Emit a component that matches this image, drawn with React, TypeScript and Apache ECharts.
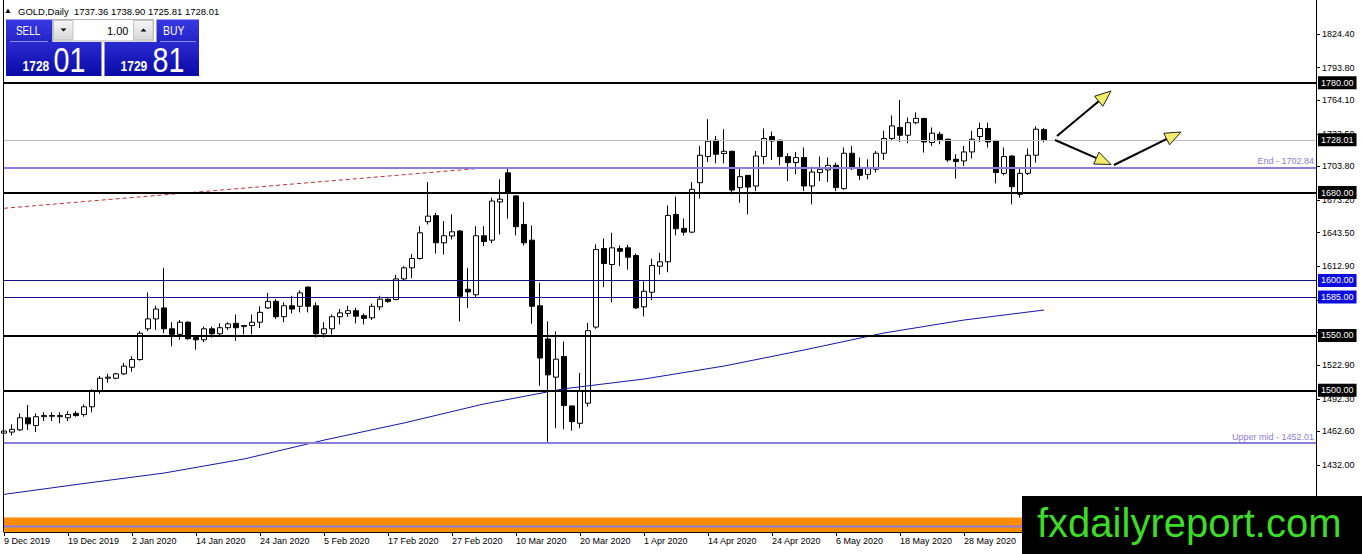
import React, { useEffect, useRef } from "react";
import * as echarts from "echarts";

const FONT = '"Liberation Sans", Arial, sans-serif';

// Trading days shown on the chart (daily bars)
const decDays = [9, 10, 11, 12, 13, 16, 17, 18, 19, 20, 23, 24, 26, 27, 30, 31];
const janDays = [2, 3, 6, 7, 8, 9, 10, 13, 14, 15, 16, 17, 20, 21, 22, 23, 24, 27, 28, 29, 30, 31];
const febDays = [3, 4, 5, 6, 7, 10, 11, 12, 13, 14, 17, 18, 19, 20, 21, 24, 25, 26, 27, 28];
const marDays = [2, 3, 4, 5, 6, 9, 10, 11, 12, 13, 16, 17, 18, 19, 20, 23, 24, 25, 26, 27, 30, 31];
const aprDays = [1, 2, 3, 6, 7, 8, 9, 13, 14, 15, 16, 17, 20, 21, 22, 23, 24, 27, 28, 29, 30];
const mayDays = [1, 4, 5, 6, 7, 8, 11, 12, 13, 14, 15, 18, 19, 20, 21, 22, 25, 26, 27, 28, 29];
const junDays = [1, 2, 3, 4, 5, 8, 9, 10, 11];
const futureSlots = 34;
const dateLabelEvery = 8;
const lastVisibleDateLabel = 120; // later labels sit under the logo box

const opens = [
  1461, 1462, 1464, 1475, 1468, 1476, 1477, 1476, 1475, 1479,
  1478, 1485, 1499, 1511, 1511, 1515, 1521, 1528, 1556, 1565,
  1575, 1556, 1551, 1562, 1548, 1546, 1556, 1551.5, 1557, 1561,
  1558, 1559, 1562, 1575, 1581, 1567, 1577, 1576.5, 1594, 1577,
  1551.5, 1556, 1567, 1570, 1572.5, 1568, 1566, 1576, 1583, 1582.6,
  1601.4, 1611.5, 1620, 1653.5, 1659, 1634.3, 1640.5, 1645, 1592, 1587,
  1640.7, 1636.7, 1671.5, 1698, 1677, 1651, 1636.7, 1577, 1546.7, 1512,
  1530.8, 1485.8, 1470, 1488.3, 1557.6, 1629, 1614.5, 1629, 1629.7, 1622.7,
  1576, 1589.3, 1613, 1617, 1660.1, 1647.4, 1644, 1689, 1712.8, 1727.7,
  1715.5, 1717.6, 1684.5, 1695.7, 1686, 1712.8, 1731, 1727.7, 1712.8, 1707.3,
  1711.9, 1686, 1698.2, 1700.6, 1704.8, 1683.6, 1715.8, 1702.7, 1696.6, 1701.2,
  1715.8, 1729.2, 1739.3, 1732.2, 1743.6, 1747.5, 1725.6, 1733.1, 1728.6, 1710.3,
  1708.8, 1717, 1731, 1738.3, 1727, 1697.5, 1713.3, 1678.4, 1697.5, 1714,
  1737.36,
];
const highs = [
  1465, 1469, 1479, 1486.7, 1479, 1480, 1480, 1480, 1481, 1481,
  1487, 1501, 1513, 1515, 1516, 1525, 1531, 1554, 1589, 1577,
  1611.5, 1562, 1564, 1563, 1549, 1558, 1558, 1561, 1562, 1569,
  1559.5, 1569, 1576.5, 1588.7, 1583, 1580, 1586, 1591, 1594.5, 1580,
  1562, 1569, 1574, 1577, 1575, 1570, 1579, 1586, 1583.5, 1605,
  1613, 1624, 1649.5, 1689.6, 1661.5, 1654, 1660.1, 1646, 1611.5, 1649.5,
  1649.5, 1675.4, 1692.1, 1702.7, 1677.5, 1671.4, 1650.1, 1597.8, 1562.8, 1553.6,
  1544.5, 1486, 1515.7, 1561.3, 1632.8, 1638.2, 1643.4, 1631.8, 1632.5, 1624.5,
  1599.3, 1619.7, 1625.2, 1668.3, 1676.3, 1656.5, 1689.6, 1722.5, 1746.8, 1731.6,
  1737.7, 1718, 1702.7, 1696, 1717.9, 1738.3, 1735.6, 1728, 1715.8, 1717,
  1721, 1703.6, 1712.8, 1711.9, 1707.3, 1721, 1722.5, 1711.9, 1710.3, 1717.9,
  1736.2, 1750.2, 1764.4, 1748.4, 1753, 1748, 1739.3, 1735.3, 1729, 1714.9,
  1722.5, 1736.2, 1743.6, 1743.6, 1728, 1721, 1714, 1701.8, 1720.1, 1740.2,
  1738.9,
];
const lows = [
  1459, 1459, 1463, 1463.9, 1462, 1472, 1472, 1470, 1472, 1476,
  1476, 1480, 1497, 1507, 1510, 1514, 1517, 1527, 1554, 1555,
  1552, 1540, 1546, 1546, 1537, 1544, 1548, 1549, 1555, 1545,
  1551, 1551, 1556.7, 1574, 1565, 1562, 1570, 1571, 1571, 1548,
  1548, 1551, 1560, 1567, 1561, 1560, 1564, 1573, 1579.5, 1582,
  1600, 1602, 1619, 1651, 1624.5, 1623.6, 1637.3, 1562.8, 1575, 1585,
  1631.2, 1634, 1641.9, 1656.2, 1641, 1631.8, 1560.7, 1504.1, 1451.8, 1465.5,
  1464.6, 1463.3, 1465.5, 1485.2, 1556, 1593.8, 1580.1, 1613, 1609.9, 1574,
  1567.3, 1582, 1605.4, 1607.5, 1641, 1641, 1643, 1674.5, 1707.9, 1706.7,
  1706.7, 1678.4, 1670.8, 1660.1, 1681.4, 1705.8, 1709.7, 1704.9, 1690.5, 1696.6,
  1681.4, 1669.3, 1690.5, 1689.6, 1681.4, 1682.5, 1700.6, 1691.4, 1692.1, 1698.2,
  1709.7, 1727, 1726.1, 1724.9, 1742.3, 1716.4, 1722.5, 1724, 1707.9, 1692.7,
  1704.2, 1711, 1726.1, 1721, 1688.4, 1695.7, 1669.3, 1675.4, 1696, 1707.3,
  1725.81,
];
const closes = [
  1463, 1464.5, 1475, 1469.5, 1476, 1477, 1476.5, 1477, 1478, 1477,
  1485, 1499, 1511, 1512, 1515, 1522, 1528, 1552, 1565, 1574,
  1556, 1551, 1562, 1547, 1546, 1556, 1551.5, 1557, 1560.5, 1557,
  1559, 1562, 1571, 1581, 1567, 1577, 1574, 1588.7, 1576.5, 1551.5,
  1556, 1567, 1570.5, 1572.5, 1567.5, 1565.5, 1576.5, 1583, 1581, 1601.4,
  1611.5, 1620, 1643.4, 1658.6, 1634.3, 1640.7, 1644.3, 1585.6, 1589.6, 1640.7,
  1635.5, 1672.3, 1674, 1680.5, 1649, 1634.3, 1576.5, 1529.4, 1514.1, 1528.4,
  1486.1, 1471.5, 1498.9, 1554.3, 1628.2, 1615.4, 1629.7, 1626.6, 1621.2, 1575,
  1590.2, 1613.6, 1617, 1659.2, 1647.1, 1644, 1682.9, 1714, 1726.8, 1714.9,
  1717.6, 1682.3, 1694.5, 1685, 1713.3, 1729.2, 1727, 1712.8, 1707.3, 1711.9,
  1686, 1698.7, 1701.2, 1704.8, 1684.5, 1715.8, 1701.8, 1695.7, 1701.8, 1715.8,
  1729.2, 1740.7, 1732.2, 1743.6, 1747.5, 1726.1, 1734.1, 1728, 1709.7, 1708.2,
  1717, 1728.6, 1738.3, 1726.1, 1698.2, 1712.8, 1685.4, 1697.5, 1714, 1737.7,
  1728.01,
];

// Moving average readings [bar index, price]
const maPoints = [
  [0, 1405.3], [10, 1415.2], [20, 1424.7], [30, 1437.5], [40, 1454.7],
  [50, 1470.3], [60, 1487.6], [70, 1501.4], [80, 1510.3], [90, 1522.1],
  [100, 1536.7], [110, 1552.2], [120, 1564.0], [130, 1573.1],
];
// Red dashed trend line [bar index, price]
const trendPoints = [[0, 1665.7], [61, 1703.0]];

const blackLevels = [1780, 1680, 1550, 1500];
const blueLevels = [1600, 1585];
const currentPrice = 1728.01;
const endLevel = 1702.84;
const upperMidLevel = 1452.01;

const yTickValues = [1401.4, 1432.0, 1462.6, 1492.3, 1522.9, 1552.6, 1582.3, 1612.9, 1643.5, 1673.2, 1703.8, 1733.5, 1764.1, 1793.8, 1824.4];
// labels that stay visible (1552.60 and 1582.30 sit fully under level boxes)
const yLabelValues = [1401.4, 1432.0, 1462.6, 1492.3, 1522.9, 1612.9, 1643.5, 1673.2, 1703.8, 1733.5, 1764.1, 1793.8, 1824.4];
const yMin = 1384.7;
const yMax = 1855.3;

const infoText = "GOLD,Daily  1737.36 1738.90 1725.81 1728.01";
const sellBig = "01";
const sellSmall = "1728";
const buyBig = "81";
const buySmall = "1729";
const lotText = "1.00";
const logoText = "fxdailyreport.com";

const categories: string[] = [
  ...decDays.map((d) => `${d} Dec 2019`),
  ...janDays.map((d) => `${d} Jan 2020`),
  ...febDays.map((d) => `${d} Feb 2020`),
  ...marDays.map((d) => `${d} Mar 2020`),
  ...aprDays.map((d) => `${d} Apr 2020`),
  ...mayDays.map((d) => `${d} May 2020`),
  ...junDays.map((d) => `${d} Jun 2020`),
  ...Array.from({ length: futureSlots }, (_, k) => `+${k + 1}`),
];

const LAV = "#8a7edc";

function arrow(x1: number, y1: number, x2: number, y2: number) {
  const dx = x2 - x1;
  const dy = y2 - y1;
  const len = Math.hypot(dx, dy);
  const ux = dx / len;
  const uy = dy / len;
  const px = -uy;
  const py = ux;
  const L = 16;
  const W = 6.5;
  const bx = x2 - ux * L;
  const by = y2 - uy * L;
  return [
    {
      type: "line",
      z: 100,
      shape: { x1, y1, x2: bx + ux * 2, y2: by + uy * 2 },
      style: { stroke: "#000", lineWidth: 2 },
    },
    {
      type: "polygon",
      z: 101,
      shape: {
        points: [
          [x2, y2],
          [bx + px * W, by + py * W],
          [bx - px * W, by - py * W],
        ],
      },
      style: { fill: "#f2ee6a", stroke: "#222", lineWidth: 1 },
    },
  ];
}

function txt(x: number, y: number, text: string, font: string, fill: string, align: string, scaleX = 1) {
  return {
    type: "text",
    z: 120,
    x,
    y,
    scaleX,
    style: {
      x: 0,
      y: 0,
      text,
      font,
      fill,
      align,
      textAlign: align,
      verticalAlign: "middle",
      textVerticalAlign: "middle",
    },
  };
}

function grad(c1: string, c2: string) {
  return new echarts.graphic.LinearGradient(0, 0, 0, 1, [
    { offset: 0, color: c1 },
    { offset: 1, color: c2 },
  ]);
}

function levelLabel(v: number, bg: string) {
  return {
    show: true,
    position: "end",
    distance: 2,
    formatter: v.toFixed(2),
    color: "#fff",
    backgroundColor: bg,
    padding: [2, 3, 1, 3],
    fontSize: 9,
    lineHeight: 10,
    fontFamily: FONT,
  };
}

function buildOption() {
  const candleData = opens.map((o, i) => [o, closes[i], lows[i], highs[i]]);

  const markData: any[] = [
    ...blackLevels.map((v) => ({
      yAxis: v,
      lineStyle: { color: "#000", width: 2, type: "solid" },
      label: levelLabel(v, "#000"),
    })),
    ...blueLevels.map((v) => ({
      yAxis: v,
      lineStyle: { color: "#10108c", width: 1, type: "solid" },
      label: levelLabel(v, "#0c0cdc"),
    })),
    {
      yAxis: currentPrice,
      lineStyle: { color: "#c0c0c0", width: 1, type: "solid" },
      label: levelLabel(currentPrice, "#000"),
    },
    {
      yAxis: endLevel,
      lineStyle: { color: LAV, width: 2, type: "solid" },
      label: {
        show: true,
        position: "insideEndTop",
        distance: 2,
        formatter: `End - ${endLevel.toFixed(2)}`,
        color: LAV,
        fontSize: 9,
        fontFamily: FONT,
      },
    },
    {
      yAxis: upperMidLevel,
      lineStyle: { color: LAV, width: 2, type: "solid" },
      label: {
        show: true,
        position: "insideEndTop",
        distance: 2,
        formatter: `Upper mid - ${upperMidLevel.toFixed(2)}`,
        color: LAV,
        fontSize: 9,
        fontFamily: FONT,
      },
    },
  ];

  const small = `9.5px ${FONT}`;

  const graphicEls: any[] = [
    // left border
    { type: "line", z: 50, shape: { x1: 3.5, y1: 0, x2: 3.5, y2: 532 }, style: { stroke: "#000", lineWidth: 1 } },
    // indicator sub-window band
    { type: "rect", z: 40, shape: { x: 3.5, y: 517.5, width: 1313, height: 14.5 }, style: { fill: "#ff8c00" } },
    { type: "line", z: 41, shape: { x1: 3.5, y1: 526.5, x2: 1316, y2: 526.5 }, style: { stroke: LAV, lineWidth: 2 } },
    { type: "line", z: 50, shape: { x1: 1316.5, y1: 515, x2: 1316.5, y2: 532 }, style: { stroke: "#000", lineWidth: 1 } },
    // arrows
    ...arrow(1057, 136, 1111, 91),
    ...arrow(1055, 140, 1111, 164.5),
    ...arrow(1114, 165, 1181, 132),
    // info line
    { type: "polygon", z: 120, shape: { points: [[5.5, 13], [10.5, 13], [8, 8.5]] }, style: { fill: "#000" } },
    txt(18, 11, infoText, small, "#000", "left"),
    // trade panel - sell
    { type: "rect", z: 110, shape: { x: 6, y: 19.5, width: 46.5, height: 22.5 }, style: { fill: grad("#3a3ae4", "#2222c6") } },
    { type: "rect", z: 110, shape: { x: 6, y: 42, width: 95.5, height: 34 }, style: { fill: grad("#2a2ad2", "#0a0aa6") } },
    { type: "line", z: 111, shape: { x1: 10, y1: 41.5, x2: 48, y2: 41.5 }, style: { stroke: "#8c8cff", lineWidth: 1 } },
    // buy
    { type: "rect", z: 110, shape: { x: 156.5, y: 19.5, width: 42.5, height: 22.5 }, style: { fill: grad("#3a3ae4", "#2222c6") } },
    { type: "rect", z: 110, shape: { x: 104.5, y: 42, width: 94.5, height: 34 }, style: { fill: grad("#2a2ad2", "#0a0aa6") } },
    { type: "line", z: 111, shape: { x1: 160, y1: 41.5, x2: 196, y2: 41.5 }, style: { stroke: "#8c8cff", lineWidth: 1 } },
    // spinner
    { type: "rect", z: 110, shape: { x: 52.5, y: 19.5, width: 101, height: 21.5 }, style: { fill: "#fff", stroke: "#b4b4b4", lineWidth: 1 } },
    { type: "rect", z: 111, shape: { x: 53.5, y: 20.5, width: 19.5, height: 19.5 }, style: { fill: grad("#f6f6f6", "#d6d6d6"), stroke: "#c4c4c4", lineWidth: 1 } },
    { type: "rect", z: 111, shape: { x: 133.5, y: 20.5, width: 19.5, height: 19.5 }, style: { fill: grad("#f6f6f6", "#d6d6d6"), stroke: "#c4c4c4", lineWidth: 1 } },
    { type: "polygon", z: 112, shape: { points: [[60.5, 28.5], [66.5, 28.5], [63.5, 31.5]] }, style: { fill: "#000" } },
    { type: "polygon", z: 112, shape: { points: [[140.5, 31.5], [146.5, 31.5], [143.5, 28.5]] }, style: { fill: "#000" } },
    txt(128.5, 30.5, lotText, `11px ${FONT}`, "#000", "right"),
    txt(16, 30.5, "SELL", `13px ${FONT}`, "#fff", "left", 0.76),
    txt(163, 30.5, "BUY", `13px ${FONT}`, "#fff", "left", 0.8),
    txt(22.5, 65.8, sellSmall, `bold 14px ${FONT}`, "#fff", "left", 0.86),
    txt(53.5, 59.5, sellBig, `35px ${FONT}`, "#fff", "left", 0.82),
    txt(120.5, 65.8, buySmall, `bold 14px ${FONT}`, "#fff", "left", 0.86),
    txt(152.5, 59.5, buyBig, `35px ${FONT}`, "#fff", "left", 0.82),
    // logo
    { type: "rect", z: 130, shape: { x: 1022, y: 496, width: 340, height: 58 }, style: { fill: "#000" } },
    { ...txt(1037, 523, logoText, `40px ${FONT}`, "#3cdc28", "left"), z: 131 },
  ];

  return {
    animation: false,
    backgroundColor: "#fff",
    textStyle: { fontFamily: FONT },
    grid: { left: 4, right: 46, top: 0, height: 517, show: false },
    xAxis: {
      type: "category",
      data: categories,
      boundaryGap: false,
      offset: 15,
      axisLine: { show: true, lineStyle: { color: "#000", width: 1 } },
      axisTick: {
        show: true,
        interval: (i: number) => i % dateLabelEvery === 0,
        length: 4,
        lineStyle: { color: "#000" },
      },
      axisLabel: {
        interval: (i: number) => i % dateLabelEvery === 0 && i <= lastVisibleDateLabel,
        formatter: (v: string) => (v.startsWith("+") ? "" : v),
        align: "left",
        color: "#000",
        fontSize: 9,
        margin: 4,
      },
      splitLine: { show: false },
    },
    yAxis: {
      type: "value",
      position: "right",
      min: yMin,
      max: yMax,
      axisLine: { show: true, lineStyle: { color: "#000", width: 1 } },
      axisTick: { show: true, customValues: yTickValues, length: 4, lineStyle: { color: "#000" } },
      axisLabel: {
        customValues: yLabelValues,
        formatter: (v: number) => v.toFixed(2),
        color: "#000",
        fontSize: 9,
        margin: 6,
      },
      splitLine: { show: false },
    },
    series: [
      {
        type: "candlestick",
        data: candleData,
        barWidth: 5,
        z: 2,
        itemStyle: {
          color: "#fff",
          color0: "#000",
          borderColor: "#000",
          borderColor0: "#000",
          borderWidth: 1,
        },
        emphasis: { disabled: true },
        markLine: {
          silent: true,
          symbol: ["none", "none"],
          animation: false,
          data: markData,
        },
      },
      {
        type: "line",
        data: maPoints,
        showSymbol: false,
        symbol: "none",
        z: 3,
        lineStyle: { color: "#1616a6", width: 1 },
        emphasis: { disabled: true },
      },
      {
        type: "line",
        data: trendPoints,
        showSymbol: false,
        symbol: "none",
        z: 3,
        lineStyle: { color: "#c0303a", width: 1, type: [4, 3] },
        emphasis: { disabled: true },
      },
    ],
    graphic: { elements: graphicEls },
  };
}

export default function App() {
  const ref = useRef<HTMLDivElement>(null);
  useEffect(() => {
    if (!ref.current) return;
    const chart = echarts.init(ref.current, null, { renderer: "svg" });
    chart.setOption(buildOption() as any);
    return () => chart.dispose();
  }, []);
  return (
    <div
      ref={ref}
      style={{ position: "fixed", left: 0, top: 0, width: 1362, height: 554, background: "#fff" }}
    />
  );
}
